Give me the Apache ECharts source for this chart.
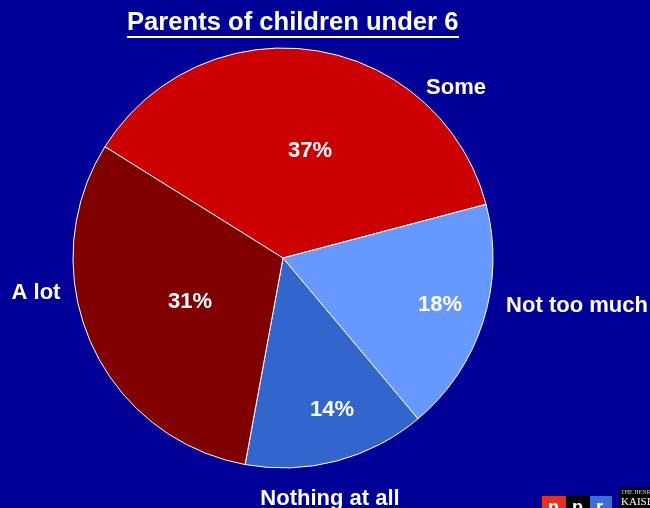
<!DOCTYPE html>
<html>
<head>
<meta charset="utf-8">
<script src="https://cdn.jsdelivr.net/npm/echarts@6/dist/echarts.min.js"></script>
<style>
html,body{margin:0;padding:0;background:#000099;}
#chart{width:650px;height:508px;}
</style>
</head>
<body>
<div id="chart"></div>
<script>
var titleText = 'Parents of children under 6';
var categories = ['Some', 'Not too much', 'Nothing at all', 'A lot'];
var percents = [37, 18, 14, 31];
var colors = ['#CC0000', '#6699FF', '#3366CC', '#800000'];

// label placement (pixel centers) for percent labels and category labels
var pctPos = [[310, 151], [440, 305], [332, 410], [190, 302]];
var namePos = [[456, 88], [577, 306], [330, 499], [36, 293]];

var chart = echarts.init(document.getElementById('chart'), null, {renderer: 'canvas'});
var FONT = '"Liberation Sans", Arial, sans-serif';

var pieData = categories.map(function (c, i) {
  return {name: c, value: percents[i], itemStyle: {color: colors[i]}};
});
var ghostData = categories.map(function (c, i) {
  return {name: c, value: percents[i]};
});

chart.setOption({
  backgroundColor: '#000099',
  animation: false,
  title: {
    text: titleText,
    left: 127,
    top: 10,
    padding: 0,
    textStyle: {color: '#fff', fontSize: 25.6, fontWeight: 'bold', fontFamily: FONT}
  },
  graphic: [
    {type: 'rect', shape: {x: 127, y: 36, width: 332, height: 2}, style: {fill: '#fff'}},
    {type: 'rect', shape: {x: 542, y: 496, width: 24, height: 14}, style: {fill: '#E8301E'}},
    {type: 'rect', shape: {x: 566, y: 496, width: 24, height: 14}, style: {fill: '#000'}},
    {type: 'rect', shape: {x: 590, y: 496, width: 22, height: 14}, style: {fill: '#3A6FD8'}},
    {type: 'text', left: 548, top: 499, style: {text: 'n', fill: '#fff', font: 'bold 18px ' + FONT}},
    {type: 'text', left: 572, top: 499, style: {text: 'p', fill: '#fff', font: 'bold 18px ' + FONT}},
    {type: 'text', left: 596, top: 499, style: {text: 'r', fill: '#fff', font: 'bold 18px ' + FONT}},
    {type: 'rect', shape: {x: 619, y: 487, width: 31, height: 21}, style: {fill: '#000'}},
    {type: 'text', left: 621, top: 489, style: {text: 'THE HENRY J.', fill: '#ccc', font: '6px "Liberation Serif", serif'}},
    {type: 'text', left: 621, top: 497, style: {text: 'KAISER', fill: '#fff', font: '11px "Liberation Serif", serif'}}
  ],
  series: [
    {
      type: 'pie',
      center: [283, 258],
      radius: 210,
      startAngle: 148,
      clockwise: true,
      silent: true,
      avoidLabelOverlap: false,
      itemStyle: {borderColor: '#ffffff', borderWidth: 1},
      label: {
        show: true,
        position: 'inside',
        formatter: '{c}%',
        color: '#fff',
        fontSize: 22,
        fontWeight: 'bold',
        fontFamily: FONT
      },
      labelLine: {show: false},
      labelLayout: function (p) {
        var pos = pctPos[p.dataIndex];
        return {x: pos[0], y: pos[1], align: 'center', verticalAlign: 'middle'};
      },
      data: pieData
    },
    {
      type: 'pie',
      center: [283, 258],
      radius: 210,
      startAngle: 148,
      clockwise: true,
      silent: true,
      avoidLabelOverlap: false,
      itemStyle: {color: 'rgba(0,0,0,0)', borderWidth: 0},
      label: {
        show: true,
        position: 'inside',
        formatter: '{b}',
        color: '#fff',
        fontSize: 22,
        fontWeight: 'bold',
        fontFamily: FONT
      },
      labelLine: {show: false},
      labelLayout: function (p) {
        var pos = namePos[p.dataIndex];
        return {x: pos[0], y: pos[1], align: 'center', verticalAlign: 'middle'};
      },
      data: ghostData
    }
  ]
});
</script>
</body>
</html>
